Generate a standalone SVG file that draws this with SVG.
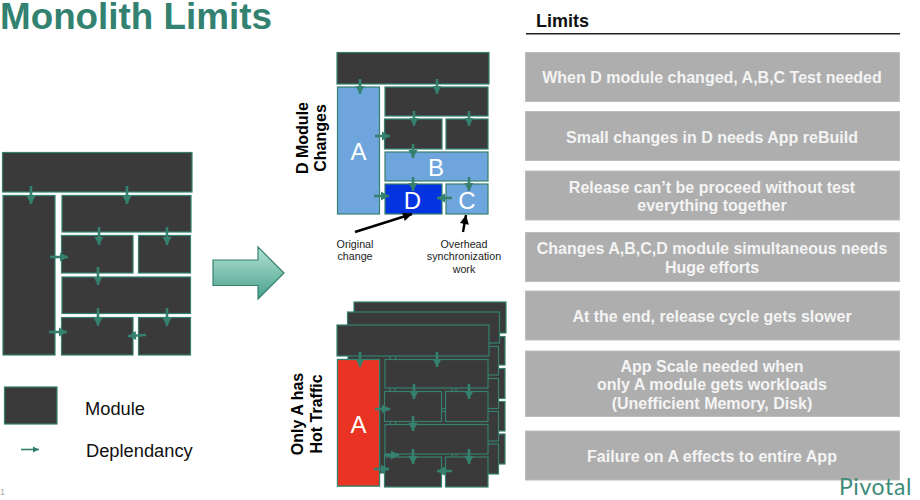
<svg xmlns="http://www.w3.org/2000/svg" xmlns:xlink="http://www.w3.org/1999/xlink" width="920" height="500" viewBox="0 0 920 500">
<style>
text{font-family:"Liberation Sans",Arial,sans-serif}
.m{fill:#3a3a3a;stroke:#35806f;stroke-width:1.2}
.blue{fill:#6fa5dd;stroke:#35806f;stroke-width:1.2}
.dep{stroke:#35806f;stroke-width:2.6;fill:none;marker-end:url(#ah)}
.thin{stroke:#35806f;stroke-width:1.6;fill:none;marker-end:url(#ahs)}
.call{stroke:#000;stroke-width:2.4;fill:none;marker-end:url(#bh)}
.box{fill:#aeaeae;stroke:#bdbdbd;stroke-width:1}
.lim{fill:#f4f4f4;font-weight:bold;font-size:16px;text-anchor:middle}
.let{fill:#fff;font-size:24px;text-anchor:middle}
.side{fill:#000;font-weight:bold;font-size:16px;text-anchor:middle}
.small{fill:#222;font-size:10.700px;text-anchor:middle}
</style>
<defs>
<marker id="ah" markerUnits="userSpaceOnUse" markerWidth="10" markerHeight="10" refX="9" refY="5" orient="auto"><path d="M1 .5L9 5L1 9.500Z" fill="#35806f"/></marker>
<marker id="ahs" markerUnits="userSpaceOnUse" markerWidth="8" markerHeight="8" refX="7" refY="4" orient="auto"><path d="M1 1L7 4L1 7Z" fill="#35806f"/></marker>
<marker id="bh" markerUnits="userSpaceOnUse" markerWidth="11" markerHeight="11" refX="10" refY="5.500" orient="auto"><path d="M1 1L10 5.500L1 10Z" fill="#000"/></marker>
<linearGradient id="g" x1="0" y1="0" x2="0" y2="1"><stop offset="0" stop-color="#b4e2d2"/><stop offset="1" stop-color="#47a08c"/></linearGradient>
<g id="stack">
<rect class="m" x="337" y="325" width="152" height="31"/>
<rect class="m" x="337.500" y="359.500" width="42" height="126.500"/>
<rect class="m" x="385" y="359.500" width="103" height="28.500"/>
<rect class="m" x="384.500" y="391.500" width="57" height="30"/>
<rect class="m" x="445.500" y="391.500" width="42.500" height="30"/>
<rect class="m" x="385" y="424.500" width="103" height="29.500"/>
<rect class="m" x="384.500" y="457" width="57" height="30"/>
<rect class="m" x="445.500" y="457" width="42.500" height="30"/>
</g>
</defs>
<text id="title" x="0" y="29" font-size="36.800" font-weight="bold" fill="#338271">Monolith Limits</text>

<g id="left-modules">
<rect class="m" x="2.500" y="152.500" width="189.500" height="39.500"/>
<rect class="m" x="3" y="195.500" width="52" height="159.500"/>
<rect class="m" x="62" y="195.500" width="129" height="36.500"/>
<rect class="m" x="61.500" y="235.500" width="71.500" height="37.500"/>
<rect class="m" x="138.500" y="235.500" width="52" height="37.500"/>
<rect class="m" x="62" y="277" width="128.500" height="36.500"/>
<rect class="m" x="61.500" y="317.500" width="71.500" height="37.500"/>
<rect class="m" x="138.500" y="317.500" width="52" height="37.500"/>
</g>
<g id="left-connectors">
<path class="dep" d="M31 186V204"/><path class="dep" d="M127 186V204"/>
<path class="dep" d="M99 227V245"/><path class="dep" d="M167 227V245"/>
<path class="dep" d="M50 257H68"/><path class="dep" d="M98 267V285"/>
<path class="dep" d="M98 308V326"/><path class="dep" d="M167 308V326"/>
<path class="dep" d="M49 332H67"/><path class="dep" d="M146 335L128 336"/>
</g>

<path id="big-arrow" d="M213 260H258V247L284 273L258 299V285.500H213Z" fill="url(#g)" stroke="#35806f" stroke-width="1.200"/>

<g id="d-modules">
<rect class="m" x="337" y="52.500" width="152" height="31.500"/>
<g id="node-a"><rect class="blue" x="337.500" y="87" width="42" height="127"/><text class="let" x="358.500" y="160">A</text></g>
<rect class="m" x="385" y="87" width="103" height="29"/>
<rect class="m" x="384.500" y="119" width="57.500" height="30"/>
<rect class="m" x="446" y="119" width="42" height="30"/>
<g id="node-b"><rect class="blue" x="385" y="152" width="103" height="29"/><text class="let" x="436" y="176">B</text></g>
<g id="node-d"><rect x="385" y="184" width="57" height="30" fill="#0433e0" stroke="#35806f" stroke-width="1.200"/><text class="let" x="412.500" y="209">D</text></g>
<g id="node-c"><rect class="blue" x="446" y="184" width="42" height="30"/><text class="let" x="467" y="209">C</text></g>
</g>
<g id="d-connectors">
<path class="dep" d="M360 79V94"/><path class="dep" d="M437 79V94"/>
<path class="dep" d="M414 111V126"/><path class="dep" d="M469 111V126"/>
<path class="dep" d="M375 136H390"/><path class="dep" d="M413 144V158"/>
<path class="dep" d="M413 177V191"/><path class="dep" d="M469 177V191"/>
<path class="dep" d="M374 196H389"/><path class="dep" d="M452 198H437"/>
<path class="call" d="M355 232L412 214"/><path class="call" d="M463 232L466 215"/>
</g>
<text class="side" transform="translate(308 138) rotate(-90)">D Module</text>
<text class="side" transform="translate(326 138) rotate(-90)">Changes</text>
<text class="small"><tspan x="355" y="248">Original</tspan><tspan x="355" y="260">change</tspan></text>
<text class="small"><tspan x="464" y="248">Overhead</tspan><tspan x="464" y="260">synchronization</tspan><tspan x="464" y="273">work</tspan></text>

<g id="a-modules">
<use xlink:href="#stack" href="#stack" transform="translate(17 -23)"/>
<use xlink:href="#stack" href="#stack" transform="translate(10.500 -13)"/>
<use xlink:href="#stack" href="#stack"/>
<g id="node-a-hot"><rect x="337.500" y="359.500" width="42" height="126.500" fill="#ea3323" stroke="#35806f" stroke-width="1.200"/><text class="let" x="358.500" y="433">A</text></g>
</g>
<g id="a-connectors">
<path class="dep" d="M360 352V367"/><path class="dep" d="M437 352V367"/>
<path class="dep" d="M414 384V399"/><path class="dep" d="M469 384V399"/>
<path class="dep" d="M375 409H390"/><path class="dep" d="M413 416V431"/>
<path class="dep" d="M413 449V464"/><path class="dep" d="M469 449V464"/>
<path class="dep" d="M384 455H399"/>
<path class="dep" d="M374 469H389"/><path class="dep" d="M452 471H437"/>
</g>
<text class="side" transform="translate(303 414) rotate(-90)">Only A has</text>
<text class="side" transform="translate(322 414) rotate(-90)">Hot Traffic</text>

<g id="legend">
<rect class="m" x="4.500" y="387" width="52.500" height="37"/>
<text x="85" y="415" font-size="18.300" fill="#111">Module</text>
<path class="thin" d="M21 449.500H39"/>
<text x="86" y="457" font-size="18.300" fill="#111">Deplendancy</text>
</g>
<text x="0" y="495" font-size="9" fill="#aaa">1</text>

<text x="536" y="27" font-size="18" font-weight="bold" fill="#111">Limits</text>
<line x1="526" y1="33.800" x2="900" y2="33.800" stroke="#222" stroke-width="1.500"/>
<g id="limit-1"><rect class="box" x="525.500" y="52.500" width="374" height="49"/><text class="lim" x="712" y="83">When D module changed, A,B,C Test needed</text></g>
<g id="limit-2"><rect class="box" x="525.500" y="111.500" width="374" height="49"/><text class="lim" x="712" y="143">Small changes in D needs App reBuild</text></g>
<g id="limit-3"><rect class="box" x="525.500" y="171" width="374" height="49"/><text class="lim"><tspan x="712" y="192.500">Release can’t be proceed without test</tspan><tspan x="712" y="211">everything together</tspan></text></g>
<g id="limit-4"><rect class="box" x="525.500" y="232.500" width="374" height="49"/><text class="lim"><tspan x="712" y="253.500">Changes A,B,C,D module simultaneous needs</tspan><tspan x="712" y="272.500">Huge efforts</tspan></text></g>
<g id="limit-5"><rect class="box" x="525.500" y="291" width="374" height="49"/><text class="lim" x="712" y="322">At the end, release cycle gets slower</text></g>
<g id="limit-6"><rect class="box" x="525.500" y="351" width="374" height="65.500"/><text class="lim"><tspan x="712" y="371.500">App Scale needed when</tspan><tspan x="712" y="390">only A module gets workloads</tspan><tspan x="712" y="408.500">(Unefficient Memory, Disk)</tspan></text></g>
<g id="limit-7"><rect class="box" x="525.500" y="431" width="374" height="49"/><text class="lim" x="712" y="462">Failure on A effects to entire App</text></g>
<text x="839" y="495" font-size="23" letter-spacing=".6" fill="#3d8a78" style="font-family:Lato,sans-serif">Pivotal</text>
</svg>
